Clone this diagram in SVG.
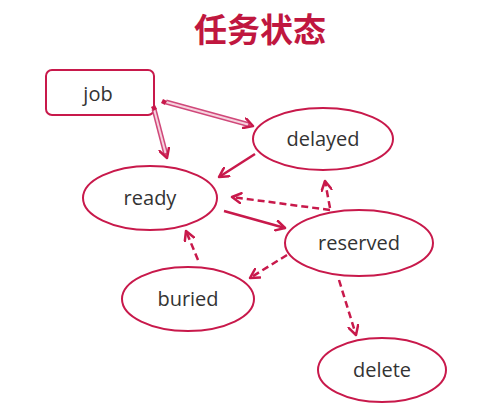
<svg xmlns="http://www.w3.org/2000/svg" width="500" height="403" viewBox="0 0 500 403">
<style>
.node{fill:#fff;stroke:#c8194b;stroke-width:2}
.lbl{font-family:"Open Sans","Noto Sans",sans-serif;font-size:20px;fill:#333;text-anchor:middle}
.solid{fill:none;stroke:#c8194b;stroke-width:2.5}
.dash{fill:none;stroke:#c8194b;stroke-width:2.5;stroke-dasharray:7 4}
.dblo{fill:none;stroke:#d0487a;stroke-width:5}
.dbli{fill:none;stroke:#f6d3de;stroke-width:2}
</style>
<defs>
<marker id="ah" viewBox="0 0 12 12" refX="10" refY="6" markerWidth="12" markerHeight="12" markerUnits="userSpaceOnUse" orient="auto">
<path d="M1,1 L10,6 L1,11" fill="none" stroke="#c8194b" stroke-width="2.5" stroke-linecap="round" stroke-linejoin="round"/>
</marker>
</defs>
<rect width="500" height="403" fill="#fff"/>
<text x="260" y="42" font-family="'Noto Sans CJK SC',sans-serif" font-size="33" font-weight="bold" fill="#c0173f" text-anchor="middle">任务状态</text>
<g id="job"><rect class="node" x="46" y="70" width="108" height="45" rx="6"/><text class="lbl" x="98" y="101">job</text></g>
<g id="delayed"><ellipse class="node" cx="323" cy="139" rx="70" ry="31"/><text class="lbl" x="323" y="146">delayed</text></g>
<g id="ready"><ellipse class="node" cx="150" cy="198" rx="67" ry="32"/><text class="lbl" x="150" y="205">ready</text></g>
<g id="reserved"><ellipse class="node" cx="359" cy="243" rx="74" ry="33"/><text class="lbl" x="359" y="250">reserved</text></g>
<g id="buried"><ellipse class="node" cx="188" cy="299" rx="66" ry="32"/><text class="lbl" x="188" y="306">buried</text></g>
<g id="delete"><ellipse class="node" cx="382" cy="370" rx="64" ry="32"/><text class="lbl" x="382" y="377">delete</text></g>
<g id="connectors">
<line class="dblo" x1="166" y1="102" x2="250" y2="125"/>
<line class="dbli" x1="166" y1="102" x2="248" y2="124.5"/>
<line x1="250" y1="125" x2="253" y2="126" stroke="none" marker-end="url(#ah)"/>
<path d="M163,99 L167,101 L165,105 L161,103 Z" fill="#c8194b"/>
<line class="dblo" x1="154" y1="109" x2="166" y2="155"/>
<line class="dbli" x1="154" y1="109" x2="165.5" y2="153"/>
<line x1="166" y1="155" x2="167" y2="158" stroke="none" marker-end="url(#ah)"/>
<path d="M151,107 L155,105 L157,109 L153,111 Z" fill="#c8194b"/>
<line class="solid" x1="255" y1="154" x2="219" y2="177" marker-end="url(#ah)"/>
<line class="solid" x1="224" y1="211" x2="285" y2="228" marker-end="url(#ah)"/>
<line class="dash" x1="330" y1="210" x2="232" y2="197" marker-end="url(#ah)"/>
<line class="dash" x1="330" y1="208" x2="325" y2="181" marker-end="url(#ah)"/>
<line class="dash" x1="287" y1="255" x2="250" y2="278" marker-end="url(#ah)"/>
<line class="dash" x1="198" y1="260" x2="186" y2="231" marker-end="url(#ah)"/>
<line class="dash" x1="339" y1="280" x2="356" y2="335" marker-end="url(#ah)"/>
</g>
</svg>
